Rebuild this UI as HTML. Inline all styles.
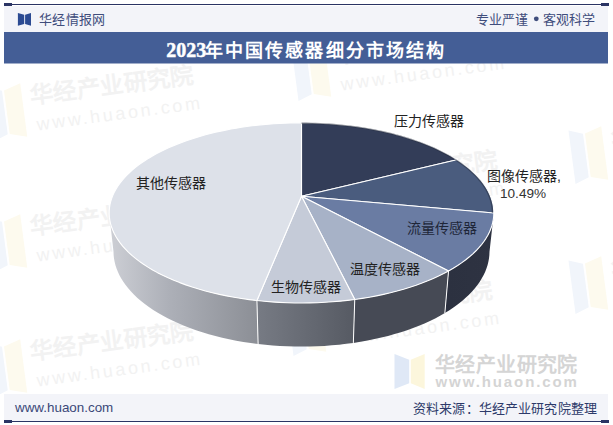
<!DOCTYPE html>
<html lang="zh-CN">
<head>
<meta charset="utf-8">
<style>
html,body{margin:0;padding:0;background:#fff;}
body{width:613px;height:425px;overflow:hidden;position:relative;font-family:"Liberation Sans",sans-serif;}
svg{position:absolute;left:0;top:0;}
</style>
</head>
<body>
<svg width="613" height="425" viewBox="0 0 613 425" font-family="Liberation Sans, sans-serif">
<defs>
<linearGradient id="sg0" gradientUnits="userSpaceOnUse" x1="493.8" y1="0" x2="448.5" y2="0"><stop offset="0" stop-color="#2e3342"/><stop offset="1" stop-color="#2c3140"/></linearGradient>
<linearGradient id="sg1" gradientUnits="userSpaceOnUse" x1="448.5" y1="0" x2="354.8" y2="0"><stop offset="0" stop-color="#464a55"/><stop offset="1" stop-color="#464a55"/></linearGradient>
<linearGradient id="sg2" gradientUnits="userSpaceOnUse" x1="354.8" y1="0" x2="256.9" y2="0"><stop offset="0" stop-color="#565a63"/><stop offset="1" stop-color="#777b84"/></linearGradient>
<linearGradient id="sg3" gradientUnits="userSpaceOnUse" x1="256.9" y1="0" x2="109.2" y2="0"><stop offset="0" stop-color="#8c8f96"/><stop offset="0.6" stop-color="#adb0b8"/><stop offset="1" stop-color="#cdcfd5"/></linearGradient>
</defs>
<!-- watermarks -->
<g>
<g transform="translate(31,104) rotate(-7.5)">
<polygon points="-41,-22 -27,-17 -27,27 -41,32" fill="#f1f5fb"/>
<polygon points="-8,-22 -25,-17 -25,27 -8,32" fill="#fdfaee"/>
<text x="0" y="0" font-size="23.5" font-weight="bold" fill="#f2f2f2" letter-spacing="0.6">华经产业研究院</text>
<text x="3" y="27" font-size="18" fill="#f2f2f2" letter-spacing="2.7">www.huaon.com</text>
</g>
<g transform="translate(31,235) rotate(-7.5)">
<polygon points="-41,-22 -27,-17 -27,27 -41,32" fill="#f1f5fb"/>
<polygon points="-8,-22 -25,-17 -25,27 -8,32" fill="#fdfaee"/>
<text x="0" y="0" font-size="23.5" font-weight="bold" fill="#f2f2f2" letter-spacing="0.6">华经产业研究院</text>
<text x="3" y="27" font-size="18" fill="#f2f2f2" letter-spacing="2.7">www.huaon.com</text>
</g>
<g transform="translate(31,360) rotate(-7.5)">
<polygon points="-41,-22 -27,-17 -27,27 -41,32" fill="#f1f5fb"/>
<polygon points="-8,-22 -25,-17 -25,27 -8,32" fill="#fdfaee"/>
<text x="0" y="0" font-size="23.5" font-weight="bold" fill="#f2f2f2" letter-spacing="0.6">华经产业研究院</text>
<text x="3" y="27" font-size="18" fill="#f2f2f2" letter-spacing="2.7">www.huaon.com</text>
</g>
<g transform="translate(335,64) rotate(-7.5)">
<polygon points="-41,-22 -27,-17 -27,27 -41,32" fill="#f1f5fb"/>
<polygon points="-8,-22 -25,-17 -25,27 -8,32" fill="#fdfaee"/>
<text x="0" y="0" font-size="23.5" font-weight="bold" fill="#f2f2f2" letter-spacing="0.6">华经产业研究院</text>
<text x="3" y="27" font-size="18" fill="#f2f2f2" letter-spacing="2.7">www.huaon.com</text>
</g>
<g transform="translate(335,189) rotate(-7.5)">
<polygon points="-41,-22 -27,-17 -27,27 -41,32" fill="#f1f5fb"/>
<polygon points="-8,-22 -25,-17 -25,27 -8,32" fill="#fdfaee"/>
<text x="0" y="0" font-size="23.5" font-weight="bold" fill="#f2f2f2" letter-spacing="0.6">华经产业研究院</text>
<text x="3" y="27" font-size="18" fill="#f2f2f2" letter-spacing="2.7">www.huaon.com</text>
</g>
<g transform="translate(330,319) rotate(-7.5)">
<polygon points="-41,-22 -27,-17 -27,27 -41,32" fill="#f1f5fb"/>
<polygon points="-8,-22 -25,-17 -25,27 -8,32" fill="#fdfaee"/>
<text x="0" y="0" font-size="23.5" font-weight="bold" fill="#f2f2f2" letter-spacing="0.6">华经产业研究院</text>
<text x="3" y="27" font-size="18" fill="#f2f2f2" letter-spacing="2.7">www.huaon.com</text>
</g>
<g transform="translate(612,147) rotate(-7.5)">
<polygon points="-41,-22 -27,-17 -27,27 -41,32" fill="#f1f5fb"/>
<polygon points="-8,-22 -25,-17 -25,27 -8,32" fill="#fdfaee"/>
<text x="0" y="0" font-size="23.5" font-weight="bold" fill="#f2f2f2" letter-spacing="0.6">华经产业研究院</text>
<text x="3" y="27" font-size="18" fill="#f2f2f2" letter-spacing="2.7">www.huaon.com</text>
</g>
<g transform="translate(612,277) rotate(-7.5)">
<polygon points="-41,-22 -27,-17 -27,27 -41,32" fill="#f1f5fb"/>
<polygon points="-8,-22 -25,-17 -25,27 -8,32" fill="#fdfaee"/>
<text x="0" y="0" font-size="23.5" font-weight="bold" fill="#f2f2f2" letter-spacing="0.6">华经产业研究院</text>
<text x="3" y="27" font-size="18" fill="#f2f2f2" letter-spacing="2.7">www.huaon.com</text>
</g>
</g>
<!-- header -->
<rect x="4" y="6" width="604" height="26" fill="#f3f4f9"/>
<rect x="12" y="4" width="589" height="1" fill="#2a3464"/>
<rect x="4" y="3" width="8" height="3" fill="#2a3464"/>
<rect x="601" y="3" width="8" height="3" fill="#2a3464"/>
<polygon points="17.9,13 24.2,14.7 24.2,24 17.9,25.7" fill="#2b4a92"/>
<polygon points="31,13 25.1,14.7 25.1,24 31,25.7" fill="#2b4a92"/>
<text x="38.8" y="23.6" font-size="13" letter-spacing="0.4" fill="#3f4d7c">华经情报网</text>
<text x="475.5" y="23.6" font-size="13" letter-spacing="0" fill="#3f4d7c">专业严谨</text>
<circle cx="536.3" cy="18.8" r="2.4" fill="#3f4d7c"/>
<text x="543" y="23.6" font-size="13" letter-spacing="0" fill="#3f4d7c">客观科学</text>
<rect x="4" y="32" width="604" height="31.5" fill="#445e96"/>
<text font-weight="bold" fill="#fff" font-family="Liberation Serif, serif"><tspan x="166.3" y="56.6" font-size="20" letter-spacing="0" stroke="#fff" stroke-width="0.45">2023</tspan><tspan x="205" y="57.2" font-size="18" letter-spacing="2.1">年中国传感器细分市场结构</tspan></text>
<!-- pie -->
<polygon points="493.83,212.89 493.71,216.03 493.36,219.19 492.77,222.36 491.93,225.53 490.84,228.72 489.50,231.90 487.91,235.07 486.06,238.24 483.96,241.39 481.59,244.52 478.96,247.63 476.07,250.71 472.91,253.75 469.50,256.76 465.82,259.71 461.88,262.62 457.69,265.47 453.24,268.25 448.55,270.97 444.85,313.02 449.45,310.17 453.80,307.24 457.91,304.25 461.77,301.20 465.38,298.09 468.73,294.93 471.83,291.73 474.68,288.49 477.27,285.22 479.61,281.92 481.69,278.60 483.52,275.26 485.11,271.92 486.44,268.56 487.53,265.21 488.37,261.86 488.98,258.52 489.35,255.19 489.50,251.87" fill="url(#sg0)"/>
<polygon points="448.55,270.97 443.70,273.56 438.61,276.07 433.30,278.51 427.77,280.85 422.03,283.10 416.08,285.26 409.93,287.31 403.59,289.25 397.07,291.08 390.38,292.79 383.53,294.38 376.53,295.85 369.39,297.19 362.13,298.39 354.76,299.46 353.35,342.91 360.53,341.79 367.61,340.53 374.56,339.12 381.38,337.59 388.06,335.92 394.58,334.12 400.94,332.20 407.12,330.17 413.12,328.02 418.93,325.76 424.54,323.40 429.94,320.94 435.13,318.38 440.10,315.74 444.85,313.02" fill="url(#sg1)"/>
<polygon points="354.76,299.46 347.43,300.38 340.03,301.16 332.55,301.81 325.01,302.31 317.43,302.68 309.83,302.90 302.21,302.99 294.58,302.93 286.97,302.73 279.39,302.39 271.85,301.91 264.36,301.29 256.93,300.54 258.11,344.03 265.34,344.82 272.63,345.47 279.98,345.97 287.36,346.33 294.77,346.54 302.19,346.60 309.61,346.51 317.01,346.28 324.39,345.89 331.72,345.36 339.00,344.69 346.22,343.87 353.35,342.91" fill="url(#sg2)"/>
<polygon points="256.93,300.54 249.34,299.61 241.84,298.54 234.46,297.34 227.20,295.99 220.08,294.52 213.12,292.91 206.32,291.18 199.69,289.33 193.25,287.36 187.01,285.28 180.97,283.10 175.14,280.81 169.53,278.43 164.15,275.96 159.00,273.40 154.10,270.77 149.44,268.06 145.02,265.28 140.86,262.44 136.96,259.54 133.31,256.60 129.92,253.60 126.79,250.57 123.92,247.50 121.32,244.40 118.97,241.28 116.88,238.14 115.04,234.99 113.46,231.82 112.13,228.65 111.06,225.49 110.22,222.32 109.64,219.17 109.29,216.02 109.17,212.89 113.50,251.87 113.64,255.17 114.01,258.49 114.62,261.82 115.46,265.16 116.54,268.50 117.86,271.84 119.43,275.17 121.25,278.50 123.31,281.81 125.63,285.09 128.20,288.35 131.03,291.58 134.10,294.77 137.43,297.92 141.01,301.02 144.84,304.06 148.92,307.05 153.24,309.97 157.81,312.81 162.61,315.58 167.64,318.27 172.89,320.86 178.37,323.36 184.06,325.76 189.96,328.05 196.05,330.23 202.34,332.29 208.80,334.23 215.43,336.05 222.22,337.73 229.15,339.27 236.22,340.68 243.41,341.95 250.72,343.06 258.11,344.03" fill="url(#sg3)"/>
<line x1="448.55" y1="270.97" x2="444.85" y2="313.02" stroke="#fff" stroke-width="1"/>
<line x1="354.76" y1="299.46" x2="353.35" y2="342.91" stroke="#fff" stroke-width="1"/>
<line x1="256.93" y1="300.54" x2="258.11" y2="344.03" stroke="#fff" stroke-width="1"/>
<polygon points="301.50,196.20 301.50,122.80 306.98,122.84 312.45,122.95 317.92,123.13 323.38,123.39 328.82,123.71 334.25,124.12 339.66,124.59 345.04,125.14 350.39,125.76 355.71,126.45 361.00,127.22 366.25,128.06 371.45,128.97 376.61,129.96 381.72,131.01 386.78,132.14 391.78,133.34 396.71,134.61 401.58,135.96 406.38,137.37 411.10,138.86 415.75,140.42 420.31,142.05 424.78,143.74 429.16,145.51 433.44,147.34 437.63,149.25 441.70,151.22 445.66,153.26 449.51,155.36 453.24,157.53 456.83,159.77" fill="#333d58" stroke="#fff" stroke-width="1.1" stroke-linejoin="round"/>
<polygon points="301.50,196.20 456.83,159.77 460.33,162.09 463.69,164.47 466.90,166.92 469.96,169.42 472.86,171.99 475.61,174.61 478.18,177.29 480.58,180.03 482.80,182.82 484.83,185.65 486.67,188.54 488.31,191.47 489.75,194.44 490.99,197.46 492.00,200.51 492.80,203.60 493.38,206.71 493.72,209.86 493.83,213.03" fill="#4a5c7e" stroke="#fff" stroke-width="1.1" stroke-linejoin="round"/>
<polygon points="301.50,196.20 493.83,213.03 493.70,216.16 493.34,219.31 492.74,222.47 491.90,225.64 490.80,228.82 489.46,231.99 487.86,235.16 486.01,238.32 483.90,241.46 481.54,244.59 478.91,247.69 476.02,250.76 472.87,253.80 469.46,256.79 465.79,259.74 461.86,262.64 457.67,265.48 453.23,268.26 448.55,270.97" fill="#6a7ca3" stroke="#fff" stroke-width="1.1" stroke-linejoin="round"/>
<polygon points="301.50,196.20 448.55,270.97 443.70,273.56 438.61,276.07 433.30,278.51 427.77,280.85 422.03,283.10 416.08,285.26 409.93,287.31 403.59,289.25 397.07,291.08 390.38,292.79 383.53,294.38 376.53,295.85 369.39,297.19 362.13,298.39 354.76,299.46" fill="#a7b2c7" stroke="#fff" stroke-width="1.1" stroke-linejoin="round"/>
<polygon points="301.50,196.20 354.76,299.46 347.43,300.38 340.03,301.16 332.55,301.81 325.01,302.31 317.43,302.68 309.83,302.90 302.21,302.99 294.58,302.93 286.97,302.73 279.39,302.39 271.85,301.91 264.36,301.29 256.93,300.54" fill="#c5cbd8" stroke="#fff" stroke-width="1.1" stroke-linejoin="round"/>
<polygon points="301.50,196.20 256.93,300.54 249.19,299.59 241.55,298.50 234.02,297.26 226.63,295.88 219.39,294.37 212.31,292.71 205.40,290.93 198.67,289.03 192.13,287.00 185.80,284.86 179.69,282.61 173.80,280.26 168.13,277.81 162.71,275.27 157.53,272.64 152.61,269.92 147.94,267.14 143.52,264.28 139.38,261.36 135.49,258.39 131.88,255.37 128.54,252.30 125.46,249.19 122.66,246.04 120.13,242.87 117.87,239.68 115.87,236.47 114.14,233.25 112.68,230.02 111.47,226.79 110.52,223.56 109.83,220.34 109.38,217.13 109.18,213.93 109.22,210.76 109.50,207.60 110.01,204.48 110.75,201.38 111.70,198.32 112.87,195.30 114.25,192.31 115.84,189.37 117.63,186.47 119.60,183.62 121.77,180.82 124.11,178.07 126.64,175.38 129.33,172.74 132.18,170.16 135.20,167.64 138.37,165.17 141.68,162.77 145.14,160.43 148.73,158.16 152.45,155.95 156.30,153.81 160.27,151.74 164.36,149.73 168.55,147.79 172.85,145.92 177.25,144.12 181.74,142.40 186.33,140.74 191.00,139.15 195.75,137.64 200.58,136.20 205.48,134.83 210.45,133.54 215.49,132.31 220.58,131.16 225.73,130.09 230.93,129.08 236.18,128.16 241.47,127.30 246.80,126.52 252.17,125.81 257.57,125.18 263.00,124.62 268.45,124.14 273.93,123.73 279.42,123.40 284.93,123.14 290.45,122.95 295.97,122.84 301.50,122.80" fill="#dde1e9" stroke="#fff" stroke-width="1.1" stroke-linejoin="round"/>
<polyline points="301.50,123.23 306.15,123.26 310.79,123.34 315.43,123.47 320.06,123.66 324.69,123.90 329.30,124.19 333.90,124.53 338.49,124.93 343.06,125.38 347.60,125.88 352.13,126.44 356.64,127.04 361.11,127.70 365.56,128.42 369.98,129.18 374.37,130.00 378.71,130.87 383.03,131.80 387.30,132.77 391.53,133.80 395.71,134.88 399.85,136.01 403.93,137.19 407.96,138.42 411.94,139.71 415.86,141.05 419.71,142.43 423.51,143.87 427.23,145.36 430.89,146.90 434.47,148.48 437.98,150.12 441.41,151.80 444.76,153.54 448.02,155.32 451.20,157.15 454.28,159.02 457.27,160.94 460.17,162.91 462.96,164.92 465.65,166.98 468.23,169.07 470.70,171.22 473.05,173.40 475.29,175.62 477.41,177.88 479.40,180.18 481.27,182.52 483.00,184.89 484.60,187.30 486.06,189.74 487.38,192.21 488.55,194.71 489.58,197.24 490.45,199.80 491.17,202.38 491.73,204.98 492.13,207.61 492.37,210.25 492.44,212.91" fill="none" stroke="#1f2536" stroke-opacity="0.45" stroke-width="1.4"/>
<!-- labels -->
<g font-size="14" fill="#222">
<text x="394" y="126">压力传感器</text>
<text x="487" y="181">图像传感器,</text>
<text x="500" y="197.8" font-size="13.6" fill="#333">10.49%</text>
<text x="407" y="233" fill="#1e2638">流量传感器</text>
<text x="350" y="274">温度传感器</text>
<text x="271" y="292">生物传感器</text>
<text x="136" y="188">其他传感器</text>
</g>
<!-- br watermark -->
<polygon points="394.5,354 409.2,359.7 409.2,383.3 394.5,389" fill="#dfe8f6"/>
<polygon points="424.7,354 410.8,359.7 410.8,383.3 424.7,389" fill="#fcf6dc"/>
<text x="435" y="372" font-size="20" font-weight="bold" fill="#d5d5d5" letter-spacing="0.4">华经产业研究院</text>
<text x="435.5" y="387" font-size="15" font-weight="bold" fill="#d4d4d4" letter-spacing="1.9">www.huaon.com</text>
<!-- footer -->
<rect x="4" y="394" width="604" height="27" fill="#f3f4f9"/>
<rect x="12" y="421" width="589" height="1" fill="#2a3464"/>
<rect x="4" y="420" width="8" height="3" fill="#2a3464"/>
<rect x="601" y="420" width="8" height="3" fill="#2a3464"/>
<text x="15" y="412" font-size="13.4" fill="#3a4878">www.huaon.com</text>
<text x="413" y="413" font-size="13" letter-spacing="0.15" fill="#2d3a6a">资料来源：华经产业研究院整理</text>
</svg>
</body>
</html>
